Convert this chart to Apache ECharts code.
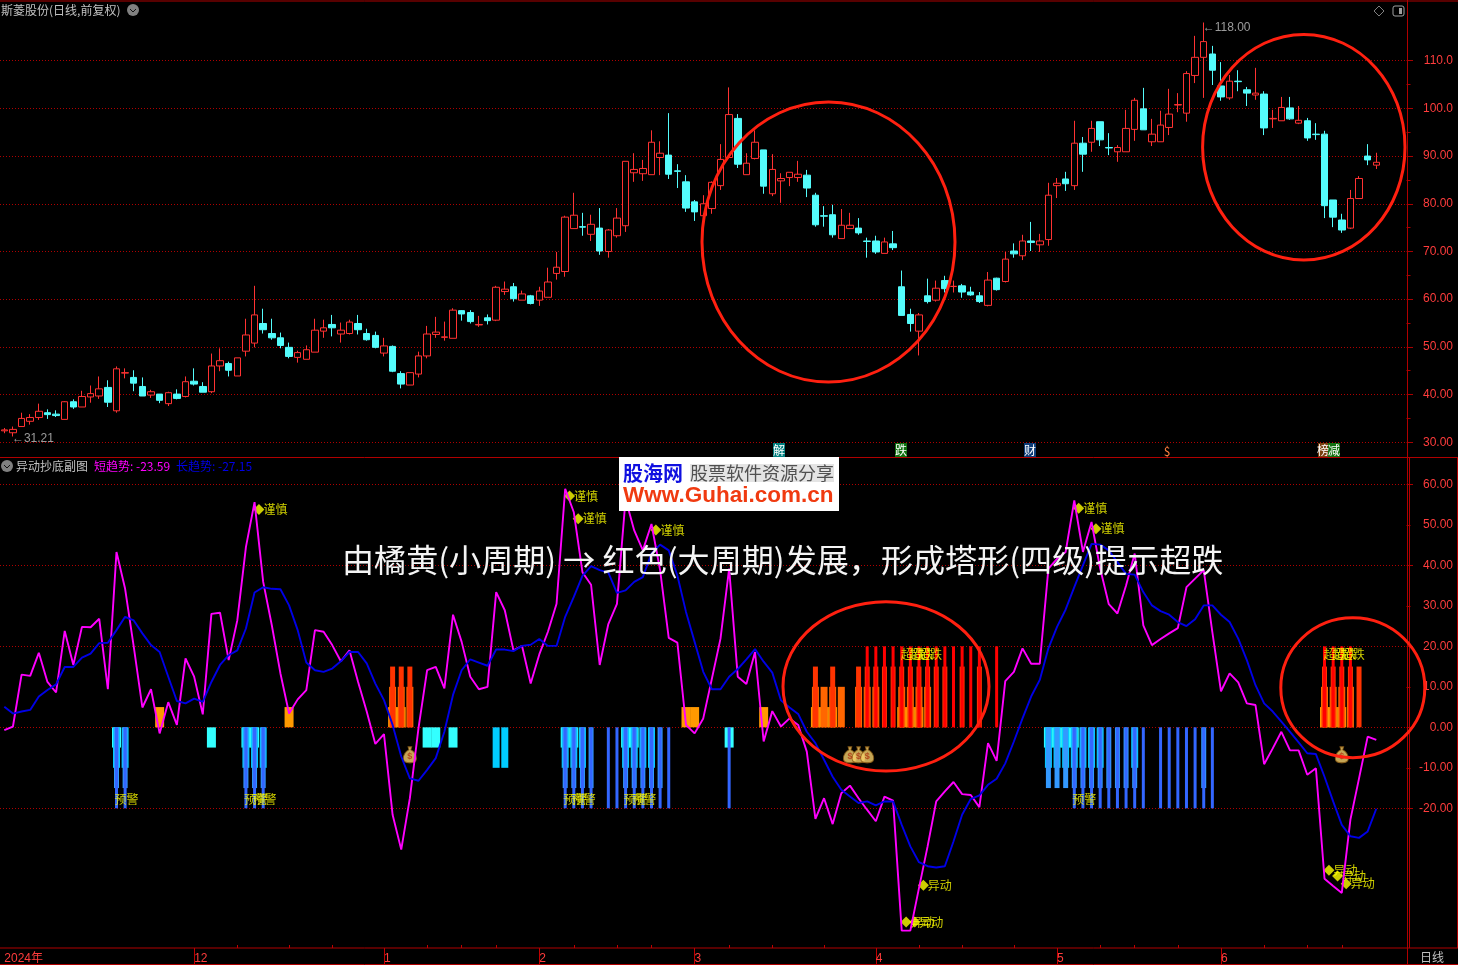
<!DOCTYPE html>
<html><head><meta charset="utf-8">
<style>html,body{margin:0;padding:0;background:#000}#c{width:1458px;height:965px}</style>
<script src="https://cdn.jsdelivr.net/npm/echarts@6/dist/echarts.min.js"></script>
</head><body><div id="c"></div>
<script>
const opens=[32.4,32.0,33.3,34.4,35.2,36.2,35.9,34.8,38.5,37.4,39.5,39.7,41.5,36.6,44.5,43.6,41.7,39.9,40.1,38.1,40.1,39.6,42.8,41.7,40.6,46.0,46.5,43.9,49.1,50.8,54.9,52.8,51.9,49.9,47.8,47.4,48.9,53.3,54.7,52.7,52.8,54.9,52.8,52.4,48.7,50.1,44.4,42.0,44.3,48.1,52.6,52.0,51.8,57.6,57.2,54.6,56.1,55.6,61.6,62.6,59.8,60.7,59.8,60.4,65.4,65.8,74.8,75.2,73.6,74.9,70.0,73.3,75.4,86.5,86.3,86.1,89.7,90.2,86.9,84.6,80.4,77.5,79.0,83.8,89.7,97.9,86.1,89.5,91.3,82.1,84.8,85.5,85.5,86.0,81.8,77.5,77.7,72.7,74.8,74.9,72.2,72.2,69.6,71.6,62.6,56.8,53.3,60.7,59.8,63.9,62.65,62.8,61.5,60.7,58.7,64.4,63.7,70.1,69.1,72.2,71.4,72.5,83.8,85.2,83.8,92.7,92.9,97.2,91.8,90.9,90.9,95.6,99.9,93.0,93.0,96.0,100.7,99.0,106.9,110.7,111.4,104.7,102.2,105.7,103.9,102.8,103.0,97.8,97.4,100.1,96.9,97.4,94.6,94.6,80.8,76.6,74.9,81.1,90.0,88.1];
const closes=[32.6,32.7,35.0,35.2,36.5,35.8,35.6,38.5,37.4,39.6,40.2,41.2,38.4,45.4,44.6,42.4,39.7,40.6,38.8,40.4,39.2,42.7,42.2,40.5,46.0,47.1,45.1,47.7,52.5,56.7,53.6,51.9,50.3,48.0,48.8,49.4,53.5,54.0,54.0,53.5,55.2,53.6,51.5,49.9,50.2,44.9,42.2,44.6,48.1,52.7,53.1,52.1,57.7,56.9,55.3,54.7,55.5,62.5,62.1,60.1,61.1,59.1,61.7,63.6,66.7,77.2,77.6,75.1,75.7,70.1,74.5,77.0,88.9,87.2,87.4,92.9,90.6,86.2,86.8,79.1,78.3,80.0,84.5,89.3,98.7,88.3,88.5,92.9,83.7,87.2,85.3,86.6,86.2,83.3,75.6,77.4,73.5,75.5,75.5,73.9,72.1,69.9,72.0,70.8,56.6,54.9,56.7,59.5,62.3,62.2,62.7,61.5,60.9,59.5,64.0,62.0,68.4,69.5,72.2,71.9,72.2,81.8,84.3,84.2,92.7,90.4,95.8,93.4,91.7,91.8,95.8,101.7,95.5,94.6,96.5,98.8,100.8,107.3,110.7,114.0,108.0,102.4,105.7,105.6,103.2,103.2,95.9,97.9,100.2,97.8,97.5,93.8,94.5,79.6,77.2,74.5,81.1,85.3,89.2,88.7];
const lows=[31.9,31.21,33.3,33.7,34.7,34.9,35.3,34.8,37.0,37.4,38.3,39.1,37.4,36.2,43.4,40.7,39.7,39.3,38.2,37.6,39.0,39.4,41.9,40.5,40.3,44.9,43.8,43.9,48.0,49.9,52.8,51.5,49.7,47.6,46.7,47.4,48.9,51.9,52.2,50.9,52.6,52.6,51.3,49.7,48.0,44.7,41.3,42.0,43.6,47.6,51.9,51.3,51.8,55.5,54.9,54.2,54.7,55.4,60.9,59.5,59.8,58.9,58.6,60.4,64.1,64.7,74.8,73.3,72.2,69.3,68.7,72.9,74.1,84.6,84.8,86.1,86.0,85.2,83.3,78.3,76.4,77.5,77.9,82.9,89.5,87.5,86.1,89.3,82.1,81.6,80.2,83.7,84.6,81.4,75.2,75.2,72.9,72.7,74.8,73.5,68.7,69.5,69.6,70.3,56.6,53.2,48.2,59.1,59.5,61.4,61.4,60.3,60.7,59.2,58.5,61.8,63.5,68.7,68.2,70.1,69.9,71.2,81.2,82.7,82.9,86.7,90.9,92.1,90.2,88.8,90.9,93.2,95.5,92.1,93.0,94.4,99.2,97.2,105.3,102.2,104.9,101.6,101.8,103.6,100.5,101.8,94.4,95.9,97.4,97.6,96.7,93.2,93.4,77.0,75.1,73.9,74.7,81.1,88.1,87.3];
const highs=[33.0,33.3,36.2,35.9,38.1,36.9,36.7,38.6,39.0,40.8,41.9,43.8,43.0,45.9,45.5,45.1,43.6,41.0,40.1,40.6,41.1,43.8,45.5,42.6,48.6,49.7,46.9,47.7,55.9,62.8,58.0,55.9,53.0,50.9,49.2,50.3,55.9,55.7,56.7,55.1,55.7,56.7,53.8,53.2,51.9,50.3,44.9,44.6,49.0,54.4,56.3,55.3,58.1,57.7,57.7,56.5,56.8,62.8,63.7,63.4,61.8,60.9,62.6,66.6,69.9,77.5,82.3,78.1,77.7,79.1,74.7,79.1,88.9,90.6,89.2,95.4,93.1,99.0,88.3,86.0,80.8,81.8,84.7,92.5,104.4,98.8,90.6,95.4,91.3,90.4,86.4,86.6,89.0,87.1,82.3,79.5,79.8,78.9,78.1,77.0,72.9,73.3,72.9,74.3,66.0,58.0,57.1,64.3,63.9,64.9,63.9,63.2,62.6,61.5,65.7,64.5,69.9,71.7,73.5,76.2,73.7,84.4,85.4,86.7,97.4,94.0,97.4,97.2,94.8,92.3,99.7,102.2,104.3,97.8,99.5,104.1,103.2,107.8,115.2,118.0,113.1,109.7,107.0,108.0,104.5,108.5,103.6,99.7,102.4,102.4,100.5,98.0,96.9,95.3,80.8,77.9,82.9,85.8,92.5,90.7];
const shortTrend=[-0.7,0.2,13,12.7,18.4,11.2,8.6,23.8,15.4,24.8,24.7,26.8,9.4,43.3,34.2,19.9,4.9,9.4,-1.5,6.2,0.6,17,12.5,3.2,28,28.3,16.6,26.4,44.5,55.6,35.9,25.2,13.3,3.4,6.9,9.2,24,23.6,20.3,16.3,19,11.2,3.9,-4.1,-1.7,-21.6,-30.2,-17.5,-0.2,14.1,14.9,9.6,27.8,21.1,12.5,9.4,10,33.4,28.9,19,20.1,10.8,18,23.6,30.5,58.9,53.1,38.3,35.2,15.4,25.5,30.5,56.4,48.6,43.7,50.2,38.8,22.1,20.9,0.6,-1.5,2.2,12,21.9,39.2,12.5,10.7,18.6,-3.5,4,0.2,2.2,0.6,-6,-22.6,-17.5,-23.9,-16.3,-14.4,-17.5,-20.4,-23.2,-17.1,-18.1,-50.2,-50.2,-39.7,-29.4,-18.3,-15.8,-13.5,-16.5,-16.7,-19.7,-3.9,-8.3,11.4,13.7,19.5,15.7,15.7,39.2,41.6,43.3,56,43.3,50.7,39.2,30.4,28.1,35,42.9,25.2,20.3,21.8,23.2,24.5,34.6,36.7,38.8,23.5,8.9,13.3,11.1,5.9,5.5,-9.1,-5.2,-1.1,-5.7,-5.7,-11.7,-10.1,-37.4,-39.2,-40.9,-22.8,-12.6,-2.3,-3.1];
const longTrend=[5.1,3.4,3.9,4.3,7.6,9.2,10.6,14.9,14.9,17.2,18.2,20.8,20.9,24,27.3,26.4,23.2,20.3,18.6,12.5,6.5,5.9,7.1,6.3,11.2,15.4,17.8,19,24.4,33.3,34.6,34.2,34.1,30.1,24,16,14.1,13.7,14.5,16.3,18.6,18.6,15.8,10.8,6.7,0.6,-7.2,-12.6,-13.2,-10.5,-7.6,-1.1,8,14.1,16.8,16,15.2,19.2,19.2,18.8,20.1,20.4,21.8,20.1,20.1,27.3,32.2,37.4,39.8,38.8,38.2,33.2,33.8,35.9,37.1,42.9,45.1,43.7,37.5,28.5,21.1,13.7,9.4,9.4,12.5,14.4,16.8,19.3,16.2,13.5,6.7,4.9,3.3,-1.1,-3.9,-8,-12.2,-15.4,-17.1,-18.7,-18.3,-19.3,-18.3,-18.3,-24.1,-29.4,-33.3,-34.3,-34.6,-34.3,-28.2,-21.6,-17.7,-16.8,-14.2,-12.7,-8.9,-3.5,2.2,7.6,11.7,19.5,24.8,29.1,34.6,40,45.3,45.1,43.7,40.8,37.9,37.7,33.4,30.1,28.7,27.8,26,25,26.7,30.1,30.1,27.8,26,21.9,16.6,10.4,5.9,3.9,1.4,-1.1,-3.7,-6.4,-6.6,-12.2,-18.3,-24.1,-26.9,-27.3,-25.7,-20.1];
// tower tiers: candle indexes carrying each tier
const upT1=[18,33,45,46,79,80,88,94,95,96,104,105,106,153,154,155];
const upT2=[45,46,47,94,95,96,97,99,100,101,104,105,106,107,153,154,155,156];
const upT3=[45,46,47,94,96,99,100,101,102,103,104,105,106,107,108,109,111,113,153,154,155,156,157];
const upT4=[100,101,102,103,104,105,106,107,108,109,110,111,112,113,115,153,154,155,156];
const dnT1=[13,24,28,29,49,50,52,65,66,72,73,84,121,122,123,124];
const dnT2=[13,14,28,29,30,57,58,65,66,67,72,73,74,75,121,122,123,124,125,126,127,131];
const dnT3=[13,14,28,29,30,65,66,67,68,72,73,74,75,76,121,122,123,124,125,126,127,128,129,130,131,139];
const dnT4=[13,14,28,29,30,65,66,67,68,70,71,72,73,74,75,76,77,84,124,125,126,127,128,129,130,131,132,134,135,136,137,138,139,140];
const cautionIdx=[29,65,66,75,124,126];
const cautionVal=[53.8,57.1,51.5,48.7,54.1,49];
const moveIdx=[104,105,106,153,154,155];
const moveVal=[-48.1,-48.1,-39,-35.3,-36.7,-38.6];
const warnIdx=[13,28,29,65,66,72,73,124];
const warnLevel=-17.8;
const oversoldIdx=[104,105,106,153,154,155];
const oversoldLevel=18;
const bagIdx=[47,98,99,100,155];
const bagLevel=-6.8;
const priceTicks=[110,100,90,80,70,60,50,40,30];
const priceMinor=[105,95,85,75,65,55,45,35];
const subTicks=[60,40,20,0,-20];
const subMinor=[50,30,10,-10];
const monthIdx=[0,22,44,62,80,101,122,141];
const monthText=['2024年','12','1','2','3','4','5','6'];
const weekTicks=[27,33,38,49,53,57,66,71,75,84,89,95,106,111,117,127,131,136,146,151,155];
const extremes=[[1,31.21,'←31.21',2],[139,118,'←118.00',5]];

const barCount=163;
const categories=Array.from({length:barCount},(_,i)=>String(i));
const FONT='"Liberation Sans","Noto Sans CJK SC",sans-serif';
const CJK='"Noto Sans CJK SC",sans-serif';
const RED='#ff3c3c',AX='#a80000',GRID='#b00000',GREY='#c0c0c0',YEL='#ffff00';
const gridL=-1,gridW=1407.5;
const fmt=v=>Math.abs(v)>=100?v.toFixed(1):v.toFixed(2);
const tierLevel=[5,10,15,20];
const tierWidth=[9,7,5,3];
const upCol=['#ff9900','#ff6600','#ff3300','#ff0000'];
const dnCol=['#33ffff','#00ccff','#3399ff','#3366ff'];
const ups=[upT1,upT2,upT3,upT4],dns=[dnT1,dnT2,dnT3,dnT4];
const tierData=t=>categories.map((_,i)=>ups[t].includes(i)?tierLevel[t]:dns[t].includes(i)?-tierLevel[t]:null);
const pts=(idx,vals)=>idx.map((x,k)=>[x,Array.isArray(vals)?vals[k]:vals]);
const BAG='path://M12 2 L20 2 L18 8 C26 12 30 20 30 26 C30 33 24 35 16 35 C8 35 2 33 2 26 C2 20 6 12 14 8 Z';

const xHidden=g=>({type:'category',gridIndex:g,data:categories,show:false});
const xAxes=[
 xHidden(0),
 {type:'category',gridIndex:1,data:categories,boundaryGap:true,position:'bottom',
  axisLine:{show:false,onZero:false},
  axisTick:{show:true,alignWithLabel:true,length:16,lineStyle:{color:'#c00000'},interval:i=>i!==0&&monthIdx.includes(i)},
  axisLabel:{show:true,color:RED,fontSize:12,fontFamily:FONT,align:'left',margin:4,padding:[1,0,0,0],
    interval:i=>monthIdx.includes(i),formatter:(v,i)=>monthText[monthIdx.indexOf(+v)]||''},
  splitLine:{show:false}},
 {type:'category',gridIndex:1,data:categories,position:'bottom',
  axisLine:{show:false,onZero:false},axisLabel:{show:false},
  axisTick:{show:true,inside:true,alignWithLabel:true,length:3,lineStyle:{color:'#c00000'},interval:i=>weekTicks.includes(i)}},
 xHidden(1),xHidden(1),xHidden(1),xHidden(1)
];
const yMain=(g,min,max,ticks)=>({type:'value',gridIndex:g,position:'right',min,max,scale:false,
  axisLine:{show:false},
  axisTick:{show:true,length:6.5,customValues:ticks,lineStyle:{color:AX}},
  axisLabel:{show:true,align:'right',margin:46.5,color:RED,fontSize:12,fontFamily:FONT,customValues:ticks,formatter:fmt,padding:[2,0,0,0]},
  splitLine:{show:true,lineStyle:{color:GRID,type:[1,2],width:1}}});
const yMinor=(g,min,max,ticks,labels)=>({type:'value',gridIndex:g,position:'right',min,max,
  axisLine:{show:false},splitLine:{show:false},
  axisTick:{show:true,length:4,customValues:ticks,lineStyle:{color:AX}},
  axisLabel:{show:labels,align:'right',margin:46.5,color:RED,fontSize:12,fontFamily:FONT,customValues:ticks,formatter:fmt,padding:[2,0,0,0]}});
const pMin=26.81,pMax=122.72,sMin=-54.49,sMax=66.5;

const series=[
 {type:'candlestick',xAxisIndex:0,yAxisIndex:0,barWidth:7,
  data:opens.map((o,i)=>[o,closes[i],lows[i],highs[i]]),
  itemStyle:{color:'#000',color0:'#54fcfc',borderColor:'#ff3232',borderColor0:'#54fcfc',borderWidth:1}},
 {type:'scatter',xAxisIndex:0,yAxisIndex:0,symbolSize:0,silent:true,
  data:extremes.map(e=>({value:[e[0],e[1]],label:{formatter:e[2],offset:[-1,e[3]]}})),
  label:{show:true,position:'right',distance:0,color:GREY,fontSize:12,fontFamily:FONT}},
];
for(let t=0;t<4;t++){
 series.push({type:'bar',xAxisIndex:3+t,yAxisIndex:2,barWidth:tierWidth[t],animation:false,
  data:tierData(t),
  itemStyle:{color:p=>p.value>0?upCol[t]:dnCol[t]}});
}
series.push(
 {type:'line',name:'短趋势',xAxisIndex:1,yAxisIndex:2,data:shortTrend,symbol:'none',lineStyle:{color:'#ff00ff',width:1.9}},
 {type:'line',name:'长趋势',xAxisIndex:1,yAxisIndex:2,data:longTrend,symbol:'none',lineStyle:{color:'#0000e6',width:1.9}},
 {type:'scatter',xAxisIndex:1,yAxisIndex:2,symbol:BAG,symbolSize:[13,16],data:pts(bagIdx,bagLevel),
  itemStyle:{color:'#f6cf6a',borderColor:'#8a5a14',borderWidth:1},
  label:{show:true,position:'inside',formatter:'$',color:'#b03010',fontSize:9,fontWeight:'bold',offset:[0,2]}},
 {type:'scatter',xAxisIndex:1,yAxisIndex:2,symbolSize:0,data:pts(warnIdx,warnLevel),
  label:{show:true,position:'right',distance:0,offset:[-2,0],formatter:'预警',color:YEL,fontSize:12,fontFamily:CJK}},
 {type:'scatter',xAxisIndex:1,yAxisIndex:2,symbolSize:0,data:pts(oversoldIdx,oversoldLevel),
  label:{show:true,position:'right',distance:0,offset:[-1,0],formatter:'超跌',color:YEL,fontSize:12,fontFamily:CJK}},
 {type:'scatter',xAxisIndex:1,yAxisIndex:2,symbol:'diamond',symbolSize:11,symbolOffset:[4.4,0],data:pts(cautionIdx,cautionVal),
  itemStyle:{color:YEL},label:{show:true,position:'right',distance:0,offset:[-1,0],formatter:'谨慎',color:YEL,fontSize:12,fontFamily:CJK}},
 {type:'scatter',xAxisIndex:1,yAxisIndex:2,symbol:'diamond',symbolSize:11,symbolOffset:[4.4,0],data:pts(moveIdx,moveVal),
  itemStyle:{color:YEL},label:{show:true,position:'right',distance:0,offset:[-1,0],formatter:'异动',color:YEL,fontSize:12,fontFamily:CJK}}
);

const txt=(x,y,text,fill,size,extra)=>({type:'text',z:50,style:Object.assign({x,y,text,fill,font:size+'px '+CJK,verticalAlign:'middle'},extra||{})});
const line=(x1,y1,x2,y2,c)=>({type:'line',z:40,shape:{x1,y1,x2,y2},style:{stroke:c||'#b00000',lineWidth:1}});
const ring=(cx,cy,rx,ry)=>({type:'ellipse',z:80,shape:{cx,cy,rx,ry},style:{fill:'none',stroke:'#ff2010',lineWidth:3}});
const badge=(x,w,bg,t)=>[{type:'rect',z:45,shape:{x,y:443,width:w,height:14},style:{fill:bg}},
  txt(x+w/2,450,t,'#ffffff',12,{textAlign:'center'})];
const chev=(cx,cy)=>[{type:'circle',z:45,shape:{cx,cy,r:6},style:{fill:'#808080'}},
  {type:'polyline',z:46,shape:{points:[[cx-3,cy-1],[cx,cy+2],[cx+3,cy-1]]},style:{stroke:'#111',fill:'none',lineWidth:1}}];
const graphics=[
 line(0,1,1458,1),line(0,457.5,1458,457.5),line(0,948,1458,948),line(0,964.5,1458,964.5),
 line(1407.5,0,1407.5,965),line(1409.5,458,1409.5,948),line(1457.5,458,1457.5,948),
 ...chev(133,10),...chev(7,466),
 txt(1,10,'斯菱股份(日线,前复权)',GREY,12),
 txt(16,466,'异动抄底副图',GREY,12),
 txt(94,466,'短趋势: -23.59','#ff00ff',12),
 txt(176,466,'长趋势: -27.15','#0000e6',12),
 {type:'polygon',z:45,shape:{points:[[1379,6],[1384,11],[1379,16],[1374,11]]},style:{fill:'none',stroke:'#808080',lineWidth:1}},
 {type:'rect',z:45,shape:{x:1393,y:6,width:11,height:10,r:2},style:{fill:'none',stroke:'#a0a0a0',lineWidth:1}},
 {type:'rect',z:46,shape:{x:1399,y:8,width:3,height:6},style:{fill:'#a0a0a0'}},
 ...badge(773,12,'#007f7f','解'),
 ...badge(895,12,'#107010','跌'),
 ...badge(1024,12,'#0c3c78','财'),
 txt(1167,451,'$','#ff8040',12,{textAlign:'center'}),
 ...badge(1318,10,'#7a4010','榜'),
 ...badge(1328,12,'#107010','减'),
 txt(1432,957,'日线',GREY,12,{textAlign:'center'}),
 {type:'rect',z:60,shape:{x:619,y:457,width:220,height:54},style:{fill:'#ffffff'}},
 {type:'text',z:62,style:{x:623,y:473,text:'股海网',fill:'#1010e0',font:'bold 20px '+CJK,verticalAlign:'middle'}},
 {type:'rect',z:61,shape:{x:690,y:464,width:144,height:18},style:{fill:'#e4e4e4'}},
 {type:'text',z:62,style:{x:690,y:473,text:'股票软件资源分享',fill:'#505050',font:'18px '+CJK,verticalAlign:'middle'}},
 {type:'text',z:62,style:{x:623,y:496,text:'Www.Guhai.com.cn',fill:'#f03a10',font:'bold 22.5px "Liberation Sans"',verticalAlign:'middle'}},
 {type:'text',z:70,style:{x:342,y:560,text:'由橘黄(小周期) → 红色(大周期)发展，形成塔形(四级)提示超跌',fill:'#f4f4f4',font:'32.1px '+CJK,verticalAlign:'middle'}},
 ring(828.5,242,126.5,140),ring(1303.8,147.2,101.2,112.8),ring(886,686.4,103,84.7),ring(1352.8,687.7,72,70)
];

const chart=echarts.init(document.getElementById('c'),null,{renderer:'canvas'});
chart.setOption({
 animation:false,backgroundColor:'#000',
 grid:[{left:gridL,width:gridW,top:0,height:457.5},{left:gridL,width:gridW,top:458,height:490}],
 xAxis:xAxes,
 yAxis:[yMain(0,pMin,pMax,priceTicks),yMinor(0,pMin,pMax,priceMinor,false),yMain(1,sMin,sMax,subTicks),yMinor(1,sMin,sMax,subMinor,true)],
 series,graphic:graphics
});
</script></body></html>
